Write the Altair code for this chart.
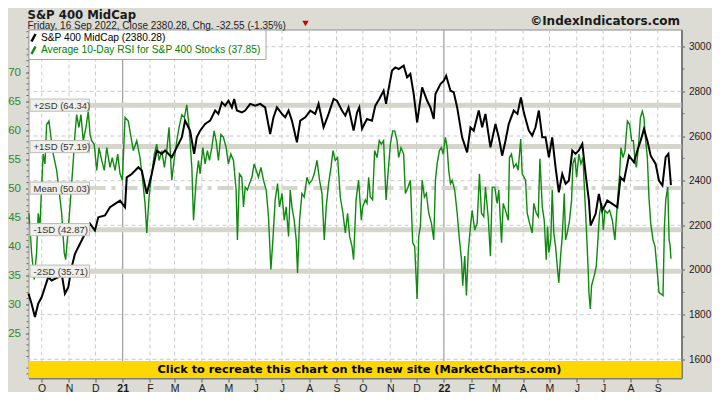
import altair as alt
import pandas as pd

# ---------------- data ----------------
START = "2020-09-16"          # day 0 of the day offsets below

# S&P 400 MidCap close, calendar-day offsets from START
price_day = [0, 3.5, 7.3, 11, 14.9, 18.7, 22.4, 26.3, 33.8, 37.7,
             41.4, 45.2, 49, 52.8, 56.5, 60.4, 64.2, 69.9, 75.5, 79.3,
             86.9, 92.6, 98.3, 104, 109.7, 111.6, 117.3, 124.8, 128.7, 134.4,
             140, 145.7, 151.4, 155.2, 162.8, 168.5, 174.2, 177.9, 181.7, 183.6,
             188.2, 191.2, 195, 200.7, 206.4, 212.1, 215.8, 219.7, 223.5, 227.2,
             231.1, 233.7, 236.8, 242.4, 246.2, 251.9, 257.6, 263.3, 268.9, 274.6,
             278.4, 282.3, 288, 291.7, 295.5, 299.3, 305, 308.8, 314.5, 320.2,
             325.8, 329.6, 335.3, 341, 346.7, 350.5, 356.2, 360, 363.7, 369.4,
             373.3, 375.9, 379, 384.6, 390.3, 394.1, 398.6, 403.5, 406.3, 409.2,
             413.1, 416.8, 420.6, 426.3, 430.2, 433.9, 437.7, 441.6, 447.3, 453,
             456.7, 460.5, 462.4, 468.1, 471.9, 474.6, 479.5, 483.2, 487.1, 492.7,
             498.4, 502.2, 505.9, 511.6, 515.5, 519.2, 524.9, 530.6, 534.4, 538.2,
             542, 545.7, 551.4, 555.6, 559.5, 562.8, 568.5, 572.4, 576.1, 579.9,
             583.8, 587.5, 591.3, 595.1, 598.9, 602.6, 606.5, 610.3, 614, 617.9,
             621.6, 625.4, 629.3, 633, 636.8, 638.7, 644.4, 648.1, 652, 657.7,
             663.4, 669.1, 672.8, 676.6, 682.3, 688, 691.8, 695.6, 699.3, 703.2,
             707, 712.6, 716.4, 720.3, 724, 727.1, 729, 730]
price_val = [1894, 1849, 1789, 1849, 1878, 1923, 1968, 1953, 1968, 1983,
             1894, 1923, 2013, 2072, 2102, 2132, 2162, 2207, 2177, 2236,
             2244, 2281, 2296, 2311, 2281, 2415, 2430, 2460, 2445, 2341,
             2430, 2535, 2520, 2535, 2505, 2549, 2594, 2669, 2639, 2624,
             2520, 2594, 2624, 2654, 2669, 2714, 2699, 2751, 2736, 2758,
             2728, 2766, 2714, 2706, 2714, 2744, 2736, 2744, 2728, 2609,
             2684, 2728, 2699, 2684, 2714, 2669, 2572, 2669, 2684, 2714,
             2699, 2744, 2639, 2699, 2766, 2758, 2714, 2691, 2728, 2624,
             2705, 2728, 2633, 2676, 2669, 2736, 2766, 2803, 2744, 2811,
             2893, 2907, 2900, 2915, 2863, 2878, 2788, 2661, 2818, 2758,
             2728, 2676, 2788, 2833, 2848, 2870, 2803, 2796, 2728, 2594,
             2527, 2639, 2624, 2714, 2639, 2699, 2549, 2654, 2594, 2512,
             2579, 2654, 2714, 2699, 2773, 2706, 2624, 2602, 2639, 2714,
             2594, 2594, 2505, 2594, 2460, 2348, 2430, 2386, 2400, 2535,
             2520, 2535, 2565, 2430, 2311, 2199, 2251, 2341, 2266, 2311,
             2296, 2281, 2415, 2400, 2512, 2482, 2535, 2579, 2632, 2579,
             2512, 2475, 2400, 2378, 2505, 2520, 2430, 2380.28]

# Average 10-day RSI, calendar-day offsets from START
rsi_day = [0.5, 3.5, 6.5, 9.2, 11, 13, 14.9, 16.7, 18.7, 20.6,
           23.2, 25.5, 28.1, 32, 33.8, 37.7, 40.6, 42.2, 44.5, 47.1,
           49, 50.9, 52.8, 54.7, 57.3, 59.6, 62.2, 65.3, 67.9, 69.9,
           71.8, 74.7, 77.5, 80.1, 83.2, 86.1, 88.9, 92.6, 95.2, 98.3,
           101.4, 104, 106.6, 109.7, 113.4, 116.5, 119.1, 123, 126.7, 129.4,
           132.4, 134.4, 137, 140, 143, 145.7, 148.4, 151.4, 154.4, 157.1,
           159.7, 162.8, 165.4, 168.5, 171.1, 174.2, 177.1, 179.9, 182.5, 185.6,
           187.5, 190.5, 193.1, 195, 198.1, 200.7, 203.3, 205.6, 208.3, 210.9,
           213.2, 215.8, 218.6, 221.5, 224.6, 227.2, 229.9, 232.9, 235.9, 237.4,
           239.7, 242.4, 244.3, 246.2, 248.8, 251.1, 253.8, 256.4, 258.7, 261.3,
           264.1, 267, 270.1, 272.7, 275.4, 277.7, 280.3, 283, 285.2, 288,
           290.6, 292.8, 295.5, 297.4, 299.3, 301.9, 304.2, 305.7, 308, 310.7,
           313.3, 316.4, 319, 322.1, 324.7, 327.8, 330.7, 333.5, 336.1, 338.3,
           341, 343.7, 346, 348.6, 351.2, 354.3, 357.3, 360, 362.6, 364.9,
           367.6, 369.4, 372.2, 375.1, 378.2, 379.7, 382.7, 384.6, 386.5, 388.4,
           391, 393.3, 396, 398.6, 400.9, 403.5, 406.3, 408.5, 411.2, 413.8,
           416.1, 418.8, 420.6, 423.3, 426.3, 428.2, 431.3, 433.9, 436.6, 438.8,
           441.6, 443.4, 445.3, 447.3, 449.9, 452.1, 454.8, 457.8, 460.5, 462.4,
           464.3, 466.9, 469.2, 471.2, 473.7, 475.7, 477.5, 479.5, 481.4, 484.3,
           487.1, 489.7, 492, 493.4, 495.7, 497.6, 499.6, 502.2, 504.1, 507.1,
           509.8, 512.4, 514.7, 517.3, 519.2, 522.3, 524.9, 526.9, 529.8, 532.5,
           534.4, 537.5, 539.4, 542, 545.1, 546.5, 548.8, 551.4, 554.2, 556.4,
           559.3, 561, 564.8, 566.7, 569.3, 572.4, 574.2, 577, 579.2, 581.1,
           583.8, 586, 588.3, 589.8, 591.3, 593.5, 595.1, 596.9, 598.9, 600.8,
           602.6, 604.6, 606.5, 608.8, 610.3, 612.2, 614.8, 617.1, 618.6, 620.9,
           622.8, 625.4, 627.7, 630, 632.3, 633.8, 636.1, 636.8, 638.4, 639.8,
           641.7, 643.6, 645.2, 647, 648.9, 651.2, 653.2, 655, 657.7, 660.3,
           663.4, 666.3, 669.1, 671.7, 673.2, 675.5, 677.8, 680.5, 683.1, 685.4,
           687.3, 689.2, 690.7, 693, 695.3, 697.5, 699.3, 701.3, 703.2, 705,
           707, 709.6, 711.9, 714.6, 716.4, 719.5, 721, 722.6, 724.1, 726.4,
           727.9, 729, 730]
rsi_val = [45.7, 38.9, 34.3, 38.9, 45.7, 43.4, 50.2, 55.9, 54.2, 61.0,
           61.6, 58.8, 55.9, 53.1, 50.8, 45.7, 38.9, 37.7, 41.7, 46.8,
           50.8, 54.8, 59.3, 62.7, 60.5, 62.7, 58.2, 60.5, 63.3, 59.3,
           58.2, 57.6, 53.1, 57.0, 54.8, 53.1, 57.0, 53.6, 55.3, 53.1,
           55.9, 52.5, 51.4, 62.2, 61.6, 58.8, 56.5, 58.2, 55.3, 51.9,
           47.4, 42.3, 48.5, 52.5, 55.9, 57.6, 54.8, 56.5, 53.6, 56.5,
           60.5, 51.4, 54.8, 58.2, 60.5, 62.7, 62.2, 64.4, 60.5, 53.6,
           44.5, 51.4, 54.8, 52.5, 57.0, 54.2, 56.5, 54.8, 57.0, 59.9,
           58.2, 54.8, 59.3, 58.8, 57.0, 54.2, 55.9, 54.8, 49.7, 41.1,
           52.5, 51.9, 46.8, 50.2, 49.7, 50.8, 51.9, 54.2, 53.1, 51.9,
           53.6, 51.4, 49.7, 45.1, 36.0, 41.1, 48.0, 50.8, 46.8, 49.1,
           44.5, 46.8, 41.7, 49.7, 46.8, 44.5, 41.1, 35.4, 44.5, 49.1,
           48.5, 51.9, 50.8, 51.4, 52.5, 54.8, 51.4, 49.1, 41.1, 46.8,
           50.8, 53.6, 56.5, 54.8, 55.3, 48.5, 45.7, 42.3, 45.7, 41.7,
           40.0, 37.7, 48.0, 51.4, 44.5, 46.8, 48.0, 47.4, 51.9, 48.5,
           48.0, 56.5, 55.3, 58.2, 57.6, 58.2, 48.0, 52.5, 57.6, 59.9,
           59.9, 58.2, 55.3, 57.0, 55.9, 49.1, 50.2, 51.4, 40.6, 40.0,
           30.9, 41.7, 43.4, 51.4, 48.5, 49.1, 45.7, 44.0, 41.1, 51.4,
           54.2, 56.5, 57.0, 55.9, 58.8, 57.0, 53.1, 50.8, 51.4, 49.7,
           45.7, 41.1, 37.7, 33.2, 38.3, 31.5, 38.9, 43.4, 46.2, 42.8,
           44.0, 52.5, 45.7, 45.1, 50.2, 45.1, 38.3, 50.2, 50.2, 47.4,
           49.7, 40.6, 47.4, 46.2, 44.5, 55.3, 55.9, 53.6, 54.2, 53.1,
           58.5, 52.5, 51.4, 45.7, 44.0, 42.3, 47.4, 45.7, 45.1, 55.1,
           46.8, 44.5, 37.7, 43.4, 38.9, 41.1, 49.7, 42.3, 40.0, 36.6,
           33.7, 38.3, 41.7, 49.1, 41.1, 42.3, 44.5, 48.0, 54.2, 55.3,
           51.9, 55.9, 54.2, 55.3, 48.0, 43.4, 35.4, 32.0, 29.2, 33.2,
           34.3, 35.4, 36.6, 41.1, 45.7, 47.4, 42.8, 46.2, 45.7, 46.2,
           44.5, 41.1, 47.4, 52.5, 57.0, 55.3, 56.5, 61.6, 61.0, 58.2,
           58.2, 54.8, 53.6, 57.0, 62.2, 63.3, 62.2, 58.2, 55.3, 48.5,
           44.0, 41.1, 40.0, 35.4, 32.0, 31.7, 31.5, 43.4, 48.0, 50.2,
           41.1, 40.2, 37.85]

band_val = [64.34, 57.19, 50.03, 42.87, 35.71]
band_txt = ["+2SD (64.34)", "+1SD (57.19)", "Mean (50.03)", "-1SD (42.87)", "-2SD (35.71)"]

month_starts = ["2020-10-01", "2020-11-01", "2020-12-01",
                "2021-01-01", "2021-02-01", "2021-03-01", "2021-04-01", "2021-05-01", "2021-06-01",
                "2021-07-01", "2021-08-01", "2021-09-01", "2021-10-01", "2021-11-01", "2021-12-01",
                "2022-01-01", "2022-02-01", "2022-03-01", "2022-04-01", "2022-05-01", "2022-06-01",
                "2022-07-01", "2022-08-01", "2022-09-01"]
rsi_ticks = [25, 30, 35, 40, 45, 50, 55, 60, 65, 70]
price_ticks = [1600, 1800, 2000, 2200, 2400, 2600, 2800, 3000]

title_txt = "S&P 400 MidCap"
subtitle_txt = "Friday, 16 Sep 2022, Close 2380.28, Chg. -32.55 (-1.35%)"
copyright_txt = "\u00a9IndexIndicators.com"
legend_price_txt = "S&P 400 MidCap (2380.28)"
legend_rsi_txt = "Average 10-Day RSI for S&P 400 Stocks (37.85)"
banner_txt = "Click to recreate this chart on the new site (MarketCharts.com)"

assert len(price_day) == len(price_val)
assert len(rsi_day) == len(rsi_val)

# ---------------- tables ----------------
def days_to_iso(days):
    ts = pd.Timestamp(START) + pd.to_timedelta(pd.Series(days, dtype=float), unit="D")
    return ts.dt.strftime("%Y-%m-%dT%H:%M:%SZ").tolist()

price_df = pd.DataFrame({"date": days_to_iso(price_day), "price": price_val})
rsi_df = pd.DataFrame({"date": days_to_iso(rsi_day), "rsi": rsi_val})
month_df = pd.DataFrame({"m": [m + "T00:00:00Z" for m in month_starts if not m.endswith("-01-01")]})
year_df = pd.DataFrame({"m": [m + "T00:00:00Z" for m in month_starts if m.endswith("-01-01")]})
sd_df = pd.DataFrame({"v": [v for v, t in zip(band_val, band_txt) if not t.startswith("Mean")]})
mean_df = pd.DataFrame({"v": [v for v, t in zip(band_val, band_txt) if t.startswith("Mean")]})
lab_df = pd.DataFrame({"v": band_val, "t": band_txt})
hgrid_df = pd.DataFrame({"p": price_ticks})
rsi_minor_df = pd.DataFrame({"v": [v for v in range(18, 78) if v % 5]})
price_minor_df = pd.DataFrame({"p": [v for v in range(1600, 3100, 100) if v % 200]})
month_ms = [int(pd.Timestamp(m, tz="UTC").value // 10**6) for m in month_starts]

# ---------------- layout ----------------
W, H = 653, 348.5
FONT = "Liberation Sans"
GREEN = "#0e8a0e"

x_scale = alt.Scale(type="utc",
                    domain=[alt.DateTime(year=2020, month=9, date=16, utc=True),
                            alt.DateTime(year=2022, month=9, date=28, utc=True)])
rsi_scale = alt.Scale(domain=[17.29, 77.38], nice=False, zero=False)
price_scale = alt.Scale(domain=[1516.3, 3077.0], nice=False, zero=False)

x_axis = alt.Axis(values=month_ms,
                  labelExpr="utcmonth(datum.value) === 0 ? utcFormat(datum.value, '%y') : "
                            "substring(utcFormat(datum.value, '%b'), 0, 1)",
                  labelFontWeight={"condition": {"test": "utcmonth(datum.value) === 0", "value": "bold"},
                                   "value": "normal"},
                  labelFont=FONT, labelFontSize=10.5, labelColor="#1a1a1a",
                  labelPadding=1, labelOverlap=False, labelFlush=False,
                  tickSize=4, tickColor="#555555", domain=True, domainColor="#7a7a7a",
                  domainWidth=2, grid=False, title=None, orient="bottom")
left_axis = alt.Axis(orient="left", values=rsi_ticks, labelColor="#2a8a2a", labelFont=FONT,
                     labelFontSize=11.5, tickSize=3, tickColor="#555555", labelPadding=5,
                     domain=False, grid=False, title=None)
right_axis = alt.Axis(orient="right", values=price_ticks, format="d", labelColor="#1a1a1a",
                      labelFont=FONT, labelFontSize=10, tickSize=3, tickColor="#555555",
                      labelPadding=4, domain=True, domainColor="#7a7a7a", domainWidth=2,
                      grid=False, title=None)


def xenc(field):
    return alt.X(f"{field}:T", scale=x_scale, axis=x_axis, title=None)


def one(txt):
    return alt.Chart(pd.DataFrame({"t": [txt]}))


def text_at(txt, x, y, **kw):
    kw.setdefault("align", "left")
    kw.setdefault("baseline", "alphabetic")
    kw.setdefault("font", FONT)
    return one(txt).mark_text(**kw).encode(x=alt.value(x), y=alt.value(y), text="t:N")


hgrid = alt.Chart(hgrid_df).mark_rule(color="#c9c9c9", strokeDash=[4, 3], strokeWidth=1).encode(
    y=alt.Y("p:Q", scale=price_scale, axis=None))
vgrid = alt.Chart(month_df).mark_rule(color="#c9c9c9", strokeDash=[4, 3], strokeWidth=1).encode(
    x=xenc("m"))
ygrid = alt.Chart(year_df).mark_rule(color="#9c9c9c", strokeWidth=1.2).encode(x=xenc("m"))

bands = alt.Chart(sd_df).mark_rule(color="#d5d5cc", strokeWidth=5).encode(
    y=alt.Y("v:Q", scale=rsi_scale, axis=None))
mean = alt.Chart(mean_df).mark_rule(color="#d5d5cc", strokeWidth=4, strokeDash=[16, 6, 4, 6]).encode(
    y=alt.Y("v:Q", scale=rsi_scale, axis=None))

rsi_minor = alt.Chart(rsi_minor_df).mark_rule(color="#666666", strokeWidth=1).encode(
    y=alt.Y("v:Q", scale=rsi_scale, axis=None), x=alt.value(-2), x2=alt.value(0))
price_minor = alt.Chart(price_minor_df).mark_rule(color="#666666", strokeWidth=1).encode(
    y=alt.Y("p:Q", scale=price_scale, axis=None), x=alt.value(W + 1), x2=alt.value(W + 3))

rsi_line = alt.Chart(rsi_df).mark_line(color=GREEN, strokeWidth=1.4).encode(
    x=xenc("date"), y=alt.Y("rsi:Q", scale=rsi_scale, axis=left_axis))
price_line = alt.Chart(price_df).mark_line(color="#000000", strokeWidth=2.0).encode(
    x=xenc("date"), y=alt.Y("price:Q", scale=price_scale, axis=right_axis))

lab_box = alt.Chart(lab_df).transform_calculate(
    top="datum.v + 1.05", bot="datum.v - 1.05"
).mark_rect(fill="#efefeb", stroke="#bdbdb5", strokeWidth=1).encode(
    x=alt.value(1.5), x2=alt.value(61),
    y=alt.Y("top:Q", scale=rsi_scale, axis=None), y2="bot:Q")
lab_txt = alt.Chart(lab_df).mark_text(align="left", baseline="middle", font=FONT, fontSize=9.5,
                                      color="#333333", dy=0.5).encode(
    x=alt.value(5), y=alt.Y("v:Q", scale=rsi_scale, axis=None), text="t:N")

legend_box = one("box").mark_rect(fill="white", stroke="#a5a5a5", strokeWidth=1).encode(
    x=alt.value(0.5), x2=alt.value(237.5), y=alt.value(0.5), y2=alt.value(30))
icon_price = one("i").mark_rule(color="#000000", strokeWidth=2.5).encode(
    x=alt.value(3), x2=alt.value(7), y=alt.value(12), y2=alt.value(4.5))
icon_rsi = one("i").mark_rule(color=GREEN, strokeWidth=2.5).encode(
    x=alt.value(3), x2=alt.value(7), y=alt.value(24.5), y2=alt.value(17))
leg_t1 = text_at(legend_price_txt, 12.5, 11, fontSize=10.2, color="#000000")
leg_t2 = text_at(legend_rsi_txt, 12.5, 23.5, fontSize=10.2, color="#008000")

banner = one("b").mark_rect(fill="#ffd700").encode(
    x=alt.value(0), x2=alt.value(W), y=alt.value(331.5), y2=alt.value(H))
banner_t = text_at(banner_txt, 331, 340.5, align="center", baseline="middle",
                   font="DejaVu Sans", fontWeight="bold", fontSize=11.3, color="#000000")

title = text_at(title_txt, -1, -10.5, font="DejaVu Sans", fontWeight="bold", fontSize=11.7,
                color="#1a1a1a")
subtitle = text_at(subtitle_txt, -1, -0.7, fontSize=10, color="#222222")
copyright_t = text_at(copyright_txt, 651.5, -5, align="right", font="DejaVu Sans",
                      fontWeight="bold", fontSize=12, color="#1a1a1a")
tri = one("tri").mark_point(shape="triangle-down", filled=True, color="#cc0000", size=40,
                            opacity=1).encode(x=alt.value(277), y=alt.value(-6))

chart = alt.layer(
    hgrid, vgrid, ygrid, bands, mean, rsi_minor, price_minor,
    rsi_line, price_line, lab_box, lab_txt,
    legend_box, icon_price, icon_rsi, leg_t1, leg_t2,
    banner, banner_t, title, subtitle, copyright_t, tri
).resolve_scale(y="independent").properties(
    width=W, height=H,
    padding={"left": 20.5, "top": 21.5, "right": 30.5, "bottom": 14},
    autosize=alt.AutoSizeParams(type="none"),
    background="#dcdcd4",
).configure_view(fill="white", stroke="#8c8c8c", strokeWidth=1)

chart.save("out.html", embed_options={"renderer": "svg", "actions": False})
